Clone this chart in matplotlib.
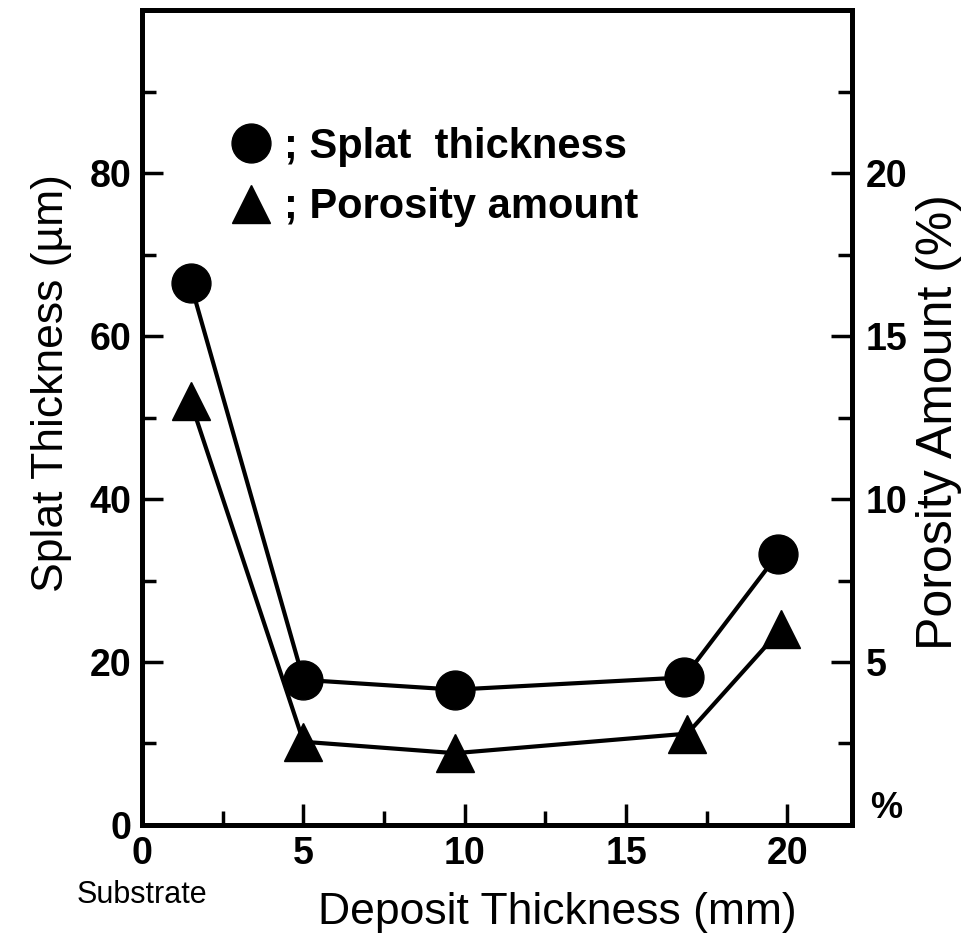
import numpy as np
import matplotlib.pyplot as plt
from matplotlib.lines import Line2D
from matplotlib.ticker import MultipleLocator, FixedLocator

plt.rcParams['font.family'] = ['Liberation Sans', 'DejaVu Sans']

# data
deposit = [1.5, 5.0, 9.7, 16.8, 19.7]
porosity_x = [1.5, 5.0, 9.7, 16.9, 19.8]
splat = [66.5, 17.8, 16.6, 18.1, 33.2]      # um
porosity = [13.0, 2.55, 2.2, 2.8, 6.0]       # %

x_ticks = [0, 5, 10, 15, 20]
left_ticks = [0, 20, 40, 60, 80]
right_ticks = [0, 5, 10, 15, 20]
right_labels = ['', '5', '10', '15', '20']

fig = plt.figure(figsize=(9.67, 9.47), dpi=100)
ax = fig.add_axes([0.147, 0.129, 0.734, 0.860])
ax2 = ax.twinx()

ax.plot(deposit, splat, color='black', lw=3, marker='o', ms=28,
        zorder=3, clip_on=False)
ax2.plot(porosity_x, porosity, color='black', lw=3, marker='^', ms=28,
         zorder=3, clip_on=False)

ax.set_xlim(0, 22)
ax.set_ylim(0, 100)
ax2.set_ylim(0, 25)

for a in (ax, ax2):
    for s in a.spines.values():
        s.set_linewidth(3.5)

tick_font = dict(fontsize=27, fontweight='bold')
ax.xaxis.set_major_locator(FixedLocator(x_ticks))
ax.xaxis.set_minor_locator(MultipleLocator(2.5))
ax.yaxis.set_major_locator(FixedLocator(left_ticks))
ax.yaxis.set_minor_locator(MultipleLocator(10))
ax2.yaxis.set_major_locator(FixedLocator(right_ticks))
ax2.yaxis.set_minor_locator(MultipleLocator(2.5))

ax.set_xticklabels([str(t) for t in x_ticks], **tick_font)
ax.set_yticklabels([str(t) for t in left_ticks], **tick_font)
ax2.set_yticklabels(right_labels, **tick_font)

ax.tick_params(which='major', direction='in', length=15, width=2.5, pad=8)
ax.tick_params(which='minor', direction='in', length=10, width=2.5)
ax2.tick_params(which='major', direction='in', length=15, width=2.5, pad=10)
ax2.tick_params(which='minor', direction='in', length=10, width=2.5)

ax.set_xlabel('Deposit Thickness (mm)', fontsize=32)
ax.xaxis.set_label_coords(0.585, -0.083)
ax.set_ylabel('Splat Thickness (\u00b5m)', fontsize=32)
ax.yaxis.set_label_coords(-0.099, 0.542)
ax2.set_ylabel('Porosity Amount (%)', fontsize=36)
ax2.yaxis.set_label_coords(1.09, 0.494)

ax.text(1.025, 0.02, '%', transform=ax.transAxes, fontsize=26,
        fontweight='bold', ha='left', va='center')
ax.text(0.0, -0.086, 'Substrate', transform=ax.transAxes, fontsize=22,
        ha='center', va='center')

handles = [
    Line2D([], [], color='black', marker='o', ls='none', ms=28),
    Line2D([], [], color='black', marker='^', ls='none', ms=28),
]
ax.legend(handles, ['; Splat  thickness', '; Porosity amount'],
          loc='upper left', bbox_to_anchor=(0.1, 0.883), frameon=False,
          prop=dict(size=30, weight='bold'), handlelength=0.8,
          handletextpad=0.4, labelspacing=0.5, borderpad=0)

fig.savefig('out.png', dpi=100)
